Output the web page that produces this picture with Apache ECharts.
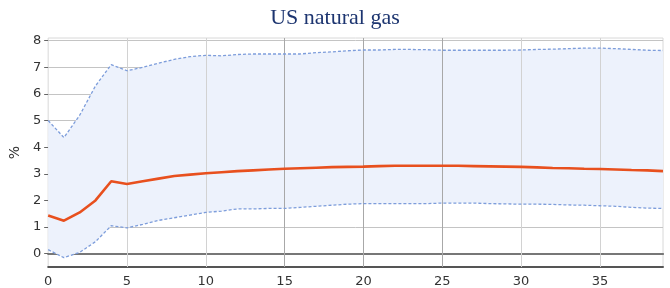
<!DOCTYPE html>
<html><head><meta charset="utf-8">
<script src="https://cdn.jsdelivr.net/npm/echarts@6/dist/echarts.min.js"></script>
<style>html,body{margin:0;padding:0;background:#fff}#c{width:670px;height:288px}</style>
</head><body><div id="c"></div>
<script>
const horizon = Array.from({length: 40}, (_, i) => i);
const central = [1.43,1.24,1.55,2.0,2.72,2.62,2.72,2.82,2.92,2.97,3.02,3.06,3.1,3.13,3.16,3.19,3.21,3.23,3.25,3.26,3.27,3.29,3.3,3.3,3.3,3.3,3.3,3.29,3.28,3.27,3.26,3.24,3.22,3.21,3.19,3.18,3.16,3.14,3.13,3.1];
const upper = [5.0,4.36,5.2,6.3,7.1,6.87,7.0,7.15,7.3,7.4,7.45,7.43,7.48,7.5,7.5,7.5,7.5,7.55,7.58,7.62,7.65,7.65,7.67,7.67,7.66,7.64,7.64,7.64,7.64,7.64,7.65,7.67,7.68,7.7,7.72,7.72,7.7,7.67,7.64,7.63];
const lower = [0.15,-0.15,0.05,0.45,1.05,0.97,1.1,1.25,1.35,1.45,1.55,1.6,1.68,1.68,1.7,1.7,1.74,1.78,1.82,1.86,1.88,1.88,1.88,1.88,1.88,1.9,1.9,1.9,1.88,1.87,1.86,1.86,1.85,1.83,1.82,1.8,1.78,1.74,1.71,1.7];
const xTicks = [0,5,10,15,20,25,30,35];
const yTicks = [0,1,2,3,4,5,6,7,8];

const pair = arr => horizon.map((x, i) => [x, arr[i]]);
const bandData = horizon.map((x, i) => [x, lower[i], upper[i]]);

const chart = echarts.init(document.getElementById('c'), null, {renderer: 'canvas'});
chart.setOption({
  animation: false,
  title: {text: 'US natural gas', left: 'center', top: 2,
    textStyle: {fontFamily: 'Liberation Serif', fontWeight: 'normal', fontSize: 22, color: '#1d3570'}},
  grid: {left: 41, right: 7, top: 38, bottom: 21, show: true, borderColor: '#d8d8d8', borderWidth: 1},
  xAxis: [{
    type: 'value', min: 0, max: 39, interval: 5,
    axisLine: {show: true, onZero: false, lineStyle: {color: '#555', width: 2}},
    axisTick: {show: false},
    axisLabel: {customValues: xTicks, color: '#333', fontSize: 13, fontFamily: 'DejaVu Sans', margin: 8},
    splitLine: {show: false}
  }, {
    type: 'value', position: 'top', min: 0, max: 39,
    axisLine: {show: true, lineStyle: {color: '#666', width: 2}},
    axisTick: {show: false}, axisLabel: {show: false}, splitLine: {show: false}
  }],
  yAxis: {
    type: 'value', min: -0.5, max: 8.1,
    name: '%', nameLocation: 'middle', nameGap: 23,
    nameTextStyle: {color: '#333', fontSize: 14, fontFamily: 'DejaVu Sans'},
    axisLine: {show: false},
    axisTick: {show: true, customValues: yTicks, length: 4, lineStyle: {color: '#666'}},
    axisLabel: {customValues: yTicks, color: '#333', fontSize: 13, fontFamily: 'DejaVu Sans', margin: 7},
    splitLine: {show: false}
  },
  series: [
    {type: 'line', data: [], symbol: 'none', silent: true, z: 1,
     markLine: {silent: true, symbol: 'none', label: {show: false}, z: 1,
       data: yTicks.filter(v => v > 0).map(v => ({yAxis: v, lineStyle: {color: '#c4c4c4', width: 1, type: 'solid'}}))
         .concat([{yAxis: 0, lineStyle: {color: '#777', width: 2, type: 'solid'}}])}},
    {type: 'custom', data: bandData, silent: true, z: 2,
     encode: {x: 0, y: [1, 2]},
     renderItem: (params, api) => {
       if (params.dataIndex !== 0) return null;
       const top = bandData.map(d => api.coord([d[0], d[2]]));
       const bot = bandData.slice().reverse().map(d => api.coord([d[0], d[1]]));
       return {type: 'polygon', shape: {points: top.concat(bot)}, style: {fill: '#edf2fc', stroke: 'none'}};
     }},
    {type: 'line', data: [], symbol: 'none', silent: true, z: 3,
     markLine: {silent: true, symbol: 'none', label: {show: false}, z: 3,
       data: xTicks.filter(v => v > 0).map(v => ({xAxis: v, lineStyle: {
         color: (v >= 15 && v <= 25) ? '#a8a8a8' : '#d2d2d2', width: 1, type: 'solid'}}))}},
    {type: 'line', data: pair(upper), symbol: 'none', z: 4,
     lineStyle: {color: '#7d9ddb', width: 1.3, type: [3, 2]}},
    {type: 'line', data: pair(lower), symbol: 'none', z: 4,
     lineStyle: {color: '#7d9ddb', width: 1.3, type: [3, 2]}},
    {type: 'line', data: pair(central), symbol: 'none', z: 5,
     lineStyle: {color: '#e8501e', width: 2.6}}
  ]
});
</script></body></html>
